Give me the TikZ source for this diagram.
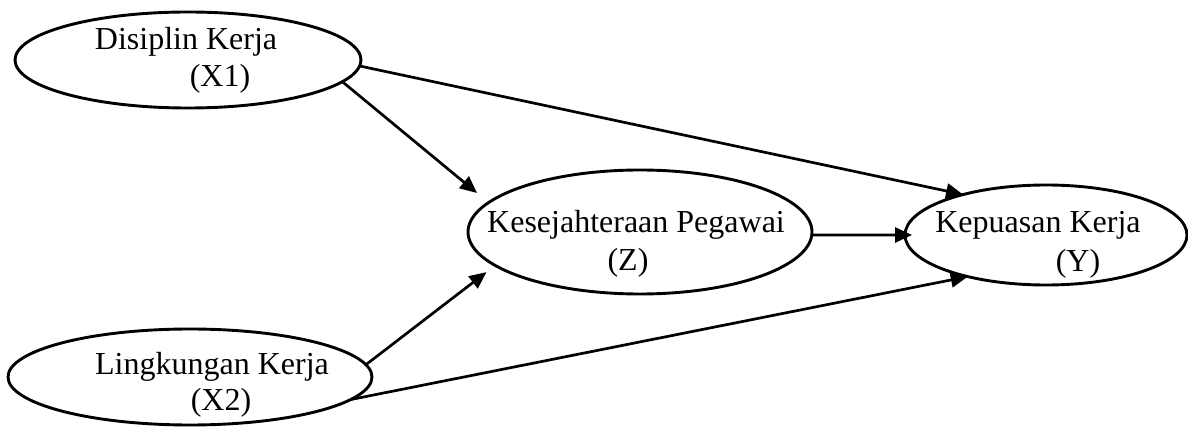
\documentclass[tikz,border=0pt]{standalone}
\usepackage{fontspec}
\setmainfont{Liberation Serif}
\usetikzlibrary{shapes.geometric,arrows.meta}
\begin{document}
\begin{tikzpicture}[x=1pt,y=-1pt,
  ell/.style={draw, ellipse, inner sep=0pt, outer sep=0pt, line width=2.9pt},
  lbl/.style={anchor=base, inner sep=0pt, font=\fontsize{32}{38}\selectfont},
  arr/.style={-{Triangle[length=17pt,width=15pt]}, line width=2.7pt}]
\useasboundingbox (0,0) rectangle (1188,427);

% variables
\node[ell, minimum width=346pt, minimum height=96pt]  (x1) at (188,60)   {};
\node[ell, minimum width=364pt, minimum height=96pt]  (x2) at (190,377)  {};
\node[ell, minimum width=344pt, minimum height=124pt] (z)  at (640,232)  {};
\node[ell, minimum width=282pt, minimum height=100pt] (y)  at (1046,235) {};

% labels
\node[lbl] (x1a) at (186,50)   {Disiplin Kerja};
\node[lbl] (x1b) at (220,87)   {(X1)};
\node[lbl] (x2a) at (212,374)  {Lingkungan Kerja};
\node[lbl] (x2b) at (221,410)  {(X2)};
\node[lbl] (za)  at (636,233)  {Kesejahteraan Pegawai};
\node[lbl] (zb)  at (628,271)  {(Z)};
\node[lbl] (ya)  at (1038,233) {Kepuasan Kerja};
\node[lbl] (yb)  at (1078,272) {(Y)};

% paths
\draw[arr, shorten >=15pt] (x1.-8) -- (z.169.1);
\draw[arr] (x1.-2.4) -- (y.154.3);
\draw[arr, shorten >=-7pt] (z.-1) -- (y.west);
\draw[arr, shorten >=11pt] (x2.4.6) -- (z.193.6);
\draw[arr] (x2.-8.7) -- (y.208.9);
\end{tikzpicture}
\end{document}
